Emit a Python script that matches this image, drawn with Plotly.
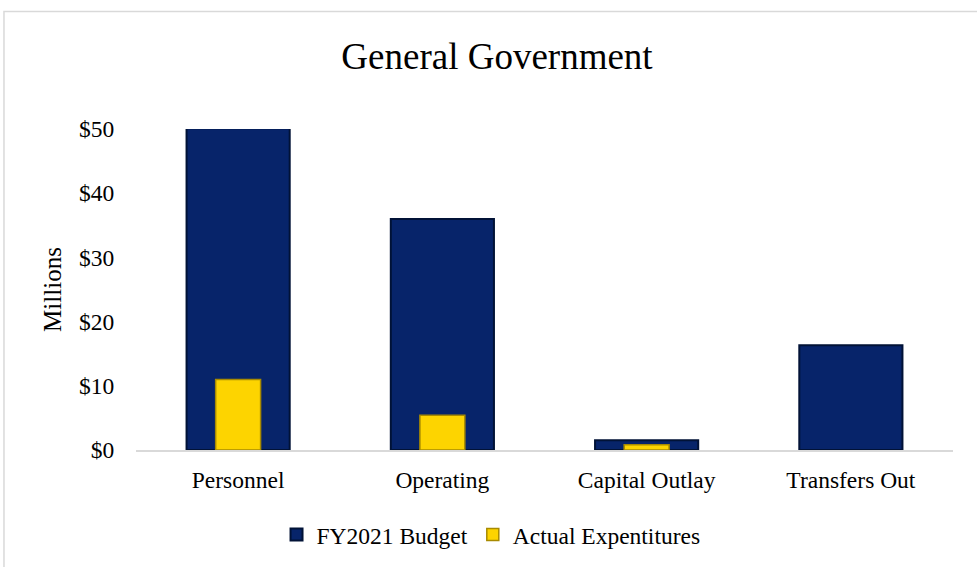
import plotly.graph_objects as go

categories = ["Personnel", "Operating", "Capital Outlay", "Transfers Out"]
budget = [50.1, 36.0, 1.5, 16.3]
actual = [11.0, 5.4, 0.8, 0.0]
tick_vals = [0, 10, 20, 30, 40, 50]
tick_text = ["$0", "$10", "$20", "$30", "$40", "$50"]

FONT = "Liberation Serif, Times New Roman, serif"

fig = go.Figure()
fig.add_trace(go.Bar(
    x=categories, y=budget, name="FY2021 Budget", width=0.505,
    marker=dict(color="#07246a", line=dict(color="#011236", width=2)),
))
fig.add_trace(go.Bar(
    x=categories, y=actual, name="Actual Expentitures", width=0.22,
    marker=dict(color="#fdd400",
                line=dict(color="#a88a00", width=[1.5 if v > 0 else 0 for v in actual])),
))

fig.update_layout(
    width=977, height=567,
    barmode="overlay",
    paper_bgcolor="white", plot_bgcolor="white",
    margin=dict(l=136, r=24, t=129, b=116),
    font=dict(family=FONT, size=23.5, color="black"),
    title=dict(text="General Government", x=497 / 977, xanchor="center",
               y=1 - 56 / 567, yanchor="middle", yref="container",
               font=dict(family=FONT, size=37, color="black")),
    xaxis=dict(showline=True, linecolor="#d9d9d9", linewidth=1.5,
               ticks="outside", ticklen=8, tickcolor="rgba(0,0,0,0)",
               showgrid=False, tickfont=dict(size=23.5)),
    yaxis=dict(range=[0, 50], tickvals=tick_vals, ticktext=tick_text,
               showgrid=False, zeroline=False, showline=False,
               ticks="outside", ticklen=16, tickcolor="rgba(0,0,0,0)",
               tickfont=dict(size=23.5),
               title=dict(text="Millions", font=dict(size=25), standoff=10)),
    legend=dict(orientation="h", x=0.172, xanchor="left", y=-0.26,
                yanchor="middle", font=dict(size=23.5), bgcolor="rgba(0,0,0,0)"),
    showlegend=True,
    shapes=[dict(type="rect", xref="paper", yref="paper",
                 x0=-0.1616, x1=1.2, y0=-0.6, y1=1.366,
                 line=dict(color="#d9d9d9", width=1.5), layer="below")],
)

fig.write_html("out.html", config={"displayModeBar": False},
               post_script="document.body.style.margin='0';")
